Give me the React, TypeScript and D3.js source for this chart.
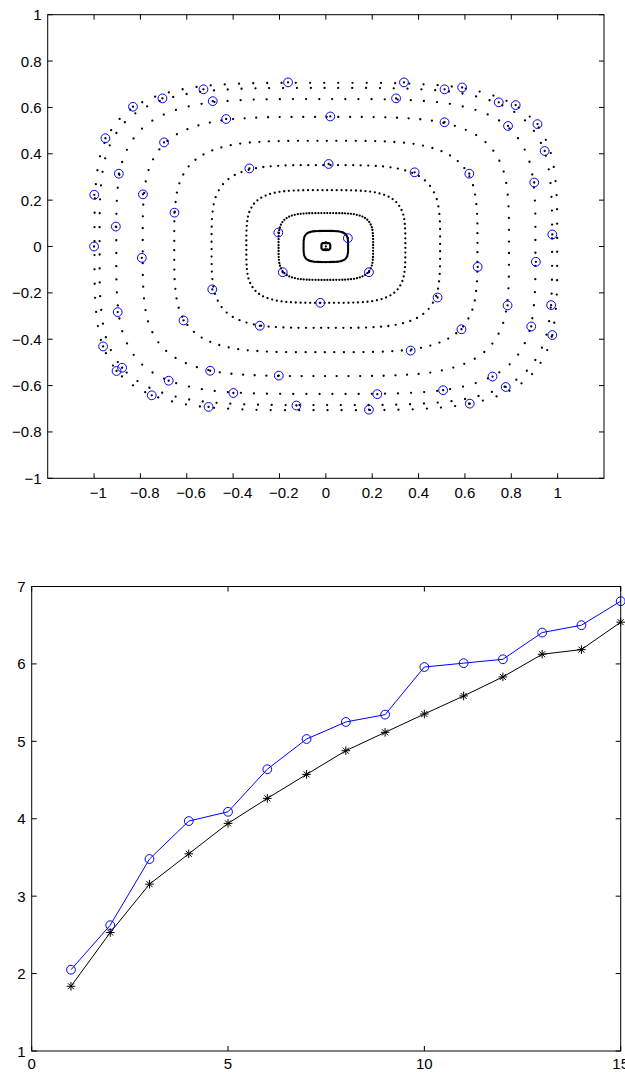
import React from 'react';
import * as d3 from 'd3';

const W = 625;
const H = 1072;

// ---------- Top panel data ----------
const ringHalfWidths = [0.998, 0.976, 0.904, 0.79, 0.654, 0.493, 0.343, 0.204, 0.096, 0.019];
const ringHalfHeights = [0.706, 0.684, 0.636, 0.559, 0.456, 0.351, 0.243, 0.144, 0.067, 0.015];
const ringDotCounts = [98, 98, 96, 94, 94, 92, 100, 96, 100, 100];
// one quarter of the rounded-square outline shared by all rings (unit size)
const ringOutlineQuarter: [number, number][] = [
  [1, 0], [0.993, 0.4], [0.966, 0.6], [0.909, 0.75], [0.841, 0.841],
  [0.75, 0.909], [0.6, 0.966], [0.4, 0.993], [0, 1],
];
const markedX = [
  -0.163, 0.337, -0.528, 0.512, 0.588, -0.705, -0.488, 0.303, -0.832, 0.746, 0.819,
  -0.43, 0.019, 0.512, 0.786, 0.913, -0.951, -0.698, 0.944, -0.33, 0.012, 0.383,
  -0.893, 0.619, 0.899, -0.999, -0.789, -0.653, -0.906, -0.205, 0.095, 0.977,
  -1.0, -0.794, 0.906, 0.655, -0.186, 0.186, -0.49, 0.482, -0.024, 0.784, 0.972,
  -0.898, -0.614, -0.285, 0.585, 0.886, 0.977, -0.961, 0.366, -0.879, -0.903,
  -0.499, -0.203, 0.719, -0.678, 0.776, 0.506, -0.399, 0.222, -0.751, 0.621,
  -0.127, -0.506, 0.186,
];
const markedY = [
  0.708, 0.708, 0.678, 0.678, 0.686, 0.639, 0.627, 0.639, 0.603, 0.622, 0.61,
  0.55, 0.561, 0.536, 0.52, 0.528, 0.467, 0.449, 0.412, 0.337, 0.356, 0.32,
  0.314, 0.314, 0.276, 0.223, 0.225, 0.146, 0.086, 0.06, 0.036, 0.052,
  0.0, -0.049, -0.066, -0.088, -0.111, -0.111, -0.185, -0.22, -0.243, -0.254, -0.253,
  -0.283, -0.319, -0.342, -0.357, -0.345, -0.382, -0.431, -0.449, -0.523, -0.537,
  -0.536, -0.557, -0.561, -0.579, -0.606, -0.62, -0.632, -0.637, -0.642, -0.678,
  -0.686, -0.692, -0.704,
];
const centerX = [0];
const centerY = [0];
const topXTicks = [-1, -0.8, -0.6, -0.4, -0.2, 0, 0.2, 0.4, 0.6, 0.8, 1];
const topYTicks = [-1, -0.8, -0.6, -0.4, -0.2, 0, 0.2, 0.4, 0.6, 0.8, 1];

// ---------- Bottom panel data ----------
const steps = [1, 2, 3, 4, 5, 6, 7, 8, 9, 10, 11, 12, 13, 14, 15];
const circleSeries = [2.05, 2.625, 3.48, 3.97, 4.09, 4.64, 5.03, 5.25, 5.345, 5.96, 6.01, 6.06, 6.405, 6.5, 6.81];
const starSeries = [1.836, 2.53, 3.155, 3.547, 3.94, 4.263, 4.573, 4.879, 5.116, 5.353, 5.586, 5.832, 6.125, 6.185, 6.539];
const bottomXTicks = [0, 5, 10, 15];
const bottomYTicks = [1, 2, 3, 4, 5, 6, 7];

const FONT = "'Liberation Sans', Arial, Helvetica, sans-serif";
const FS = 15;
const TICK = 5;
const BLUE = '#0000ff';

const fmt = d3.format('~g');

function Frame({ xs, ys, xTicks, yTicks, shiftNeg, labelGap }: any) {
  const [x0, x1] = xs.range();
  const [y0, y1] = ys.range(); // y0 bottom, y1 top
  return (
    <g>
      <rect x={x0} y={y1} width={x1 - x0} height={y0 - y1} fill="none" stroke="#000" strokeWidth={1} />
      {xTicks.map((t: number) => (
        <g key={'x' + t}>
          <line x1={xs(t)} x2={xs(t)} y1={y0} y2={y0 - TICK} stroke="#000" strokeWidth={1} />
          <line x1={xs(t)} x2={xs(t)} y1={y1} y2={y1 + TICK} stroke="#000" strokeWidth={1} />
          <text
            x={xs(t)}
            y={y0 + labelGap}
            dx={shiftNeg && t < 0 ? '0.29em' : 0}
            textAnchor="middle"
            dominantBaseline="central"
            fontFamily={FONT}
            fontSize={FS}
            fill="#000"
          >
            {fmt(t)}
          </text>
        </g>
      ))}
      {yTicks.map((t: number) => (
        <g key={'y' + t}>
          <line x1={x0} x2={x0 + TICK} y1={ys(t)} y2={ys(t)} stroke="#000" strokeWidth={1} />
          <line x1={x1} x2={x1 - TICK} y1={ys(t)} y2={ys(t)} stroke="#000" strokeWidth={1} />
          <text
            x={x0 - 6}
            y={ys(t)}
            textAnchor="end"
            dominantBaseline="central"
            fontFamily={FONT}
            fontSize={FS}
            fill="#000"
          >
            {fmt(t)}
          </text>
        </g>
      ))}
    </g>
  );
}

export default function App() {
  // top panel scales
  const xT = d3.scaleLinear().domain([-1.2, 1.2]).range([47.7, 604]);
  const yT = d3.scaleLinear().domain([-1, 1]).range([478.3, 14.7]);

  const q1 = ringOutlineQuarter;
  const q2 = q1.slice(0, -1).reverse().map(([x, y]) => [-x, y]);
  const q3 = q1.slice(1).map(([x, y]) => [-x, -y]);
  const q4 = q1.slice(1, -1).reverse().map(([x, y]) => [x, -y]);
  const outline = [...q1, ...q2, ...q3, ...q4] as [number, number][];

  const rings = ringHalfWidths.map((a, i) => {
    const b = ringHalfHeights[i];
    const gen = d3
      .line<[number, number]>()
      .x((d) => xT(d[0] * a))
      .y((d) => yT(d[1] * b))
      .curve(d3.curveCatmullRomClosed);
    return { d: gen(outline) as string, n: ringDotCounts[i] };
  });

  // bottom panel scales
  const xB = d3.scaleLinear().domain([0, 15]).range([31.7, 620.7]);
  const yB = d3.scaleLinear().domain([1, 7]).range([1051, 586.5]);
  const lineB = (vals: number[]) =>
    d3
      .line<number>()
      .x((_, i) => xB(steps[i]))
      .y((v) => yB(v))(vals) as string;

  const starPath = (cx: number, cy: number) => {
    const r = 4.3;
    const q = 3.0;
    return `M${cx - r},${cy}L${cx + r},${cy}M${cx},${cy - r}L${cx},${cy + r}M${cx - q},${cy - q}L${cx + q},${cy + q}M${cx - q},${cy + q}L${cx + q},${cy - q}`;
  };

  return (
    <svg
      width={W}
      height={H}
      viewBox={`0 0 ${W} ${H}`}
      style={{ position: 'absolute', left: 0, top: 0, display: 'block', background: '#fff' }}
    >
      <rect x={0} y={0} width={W} height={H} fill="#fff" />
      {/* ---------- top panel ---------- */}
      <g>
        {rings.map((r, i) => (
          <path
            key={'ring' + i}
            d={r.d}
            pathLength={r.n}
            fill="none"
            stroke="#000"
            strokeWidth={2.3}
            strokeLinecap="round"
            strokeDasharray="0 1"
          />
        ))}
        {centerX.map((x, i) => (
          <circle key={'c' + i} cx={xT(x)} cy={yT(centerY[i])} r={1.15} fill="#000" />
        ))}
        {markedX.map((x, i) => (
          <g key={'m' + i}>
            <circle cx={xT(x)} cy={yT(markedY[i])} r={1.15} fill="#000" />
            <circle cx={xT(x)} cy={yT(markedY[i])} r={4.4} fill="none" stroke={BLUE} strokeWidth={1} />
          </g>
        ))}
        <Frame xs={xT} ys={yT} xTicks={topXTicks} yTicks={topYTicks} shiftNeg={true} labelGap={14.5} />
      </g>

      {/* ---------- bottom panel ---------- */}
      <g>
        <path d={lineB(circleSeries)} fill="none" stroke={BLUE} strokeWidth={1} />
        <path d={lineB(starSeries)} fill="none" stroke="#000" strokeWidth={1} />
        {circleSeries.map((v, i) => (
          <circle key={'bc' + i} cx={xB(steps[i])} cy={yB(v)} r={4.4} fill="none" stroke={BLUE} strokeWidth={1} />
        ))}
        {starSeries.map((v, i) => (
          <path key={'bs' + i} d={starPath(xB(steps[i]), yB(v))} fill="none" stroke="#000" strokeWidth={1} />
        ))}
        <Frame xs={xB} ys={yB} xTicks={bottomXTicks} yTicks={bottomYTicks} shiftNeg={false} labelGap={12.5} />
      </g>
    </svg>
  );
}
